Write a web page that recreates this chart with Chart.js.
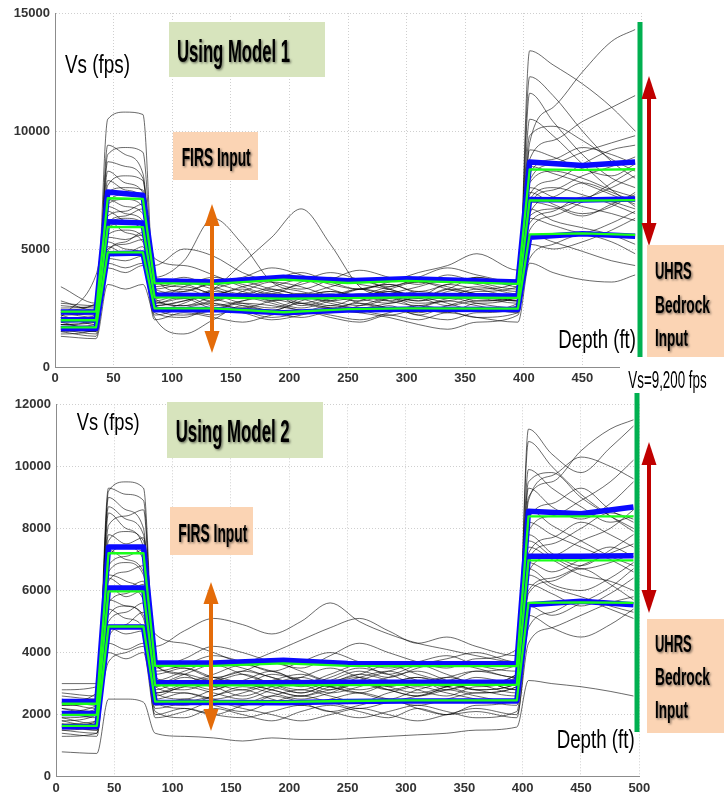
<!DOCTYPE html>
<html>
<head>
<meta charset="utf-8">
<script src="https://cdn.jsdelivr.net/npm/chart.js@4/dist/chart.umd.min.js"></script>
<style>
  html, body { margin: 0; padding: 0; background: #fff; }
  #wrap { position: relative; width: 724px; height: 794px; overflow: hidden; }
  canvas { position: absolute; left: 0; }
  #model1 { top: 0; }
  #model2 { top: 390px; }
  #notes { position: absolute; left: 0; top: 0; }
  #notes text { font-family: "Liberation Sans", Arial, sans-serif; fill: #000; }
  #notes .b { font-weight: bold; }
</style>
</head>
<body>
<div id="wrap">
  <canvas id="model1" width="724" height="390"></canvas>
  <canvas id="model2" width="724" height="404"></canvas>
  <svg id="notes" width="724" height="794" viewBox="0 0 724 794">
    <defs>
      <filter id="shadow" x="-10%" y="-20%" width="130%" height="150%">
        <feDropShadow dx="1.2" dy="1.2" stdDeviation="1" flood-color="#000" flood-opacity="0.55"/>
      </filter>
    </defs>

    <!-- Model 1 panel annotations -->
    <text x="65" y="73.3" font-size="25" textLength="65" lengthAdjust="spacingAndGlyphs">Vs (fps)</text>
    <rect x="169" y="22" width="156" height="55" fill="#d7e4bd"/>
    <text class="b" x="177" y="61.7" font-size="31" textLength="113" lengthAdjust="spacingAndGlyphs" filter="url(#shadow)">Using Model 1</text>
    <rect x="173" y="132" width="85" height="48" fill="#fbd4b4"/>
    <text class="b" x="181.7" y="165.7" font-size="25" textLength="69" lengthAdjust="spacingAndGlyphs" filter="url(#shadow)">FIRS Input</text>
    <line x1="212" y1="222" x2="212" y2="335" stroke="#e46c0a" stroke-width="4"/>
    <polygon points="212,204 204.5,226 219.5,226" fill="#e46c0a"/>
    <polygon points="212,353 204.5,331 219.5,331" fill="#e46c0a"/>
    <line x1="640" y1="22" x2="640" y2="357" stroke="#00b050" stroke-width="5"/>
    <line x1="649" y1="94" x2="649" y2="228" stroke="#c00000" stroke-width="4"/>
    <polygon points="649,76 641.5,99 656.5,99" fill="#c00000"/>
    <polygon points="649,246 641.5,223 656.5,223" fill="#c00000"/>
    <rect x="647" y="245" width="77" height="112" fill="#fbd4b4"/>
    <text class="b" x="655" y="279.3" font-size="24.5" textLength="36.7" lengthAdjust="spacingAndGlyphs" filter="url(#shadow)">UHRS</text>
    <text class="b" x="655" y="312.7" font-size="24.5" textLength="55" lengthAdjust="spacingAndGlyphs" filter="url(#shadow)">Bedrock</text>
    <text class="b" x="655" y="346" font-size="24.5" textLength="33" lengthAdjust="spacingAndGlyphs" filter="url(#shadow)">Input</text>
    <text x="558.3" y="348.3" font-size="25.5" textLength="77.7" lengthAdjust="spacingAndGlyphs">Depth (ft)</text>
    <rect x="620" y="358" width="104" height="37" fill="#ffffff"/>
    <text x="628.3" y="388.3" font-size="23" textLength="78.4" lengthAdjust="spacingAndGlyphs">Vs=9,200 fps</text>

    <!-- Model 2 panel annotations -->
    <text x="76.7" y="430" font-size="24" textLength="63" lengthAdjust="spacingAndGlyphs">Vs (fps)</text>
    <rect x="167" y="402" width="156" height="56" fill="#d7e4bd"/>
    <text class="b" x="175.7" y="441.7" font-size="31" textLength="114" lengthAdjust="spacingAndGlyphs" filter="url(#shadow)">Using Model 2</text>
    <rect x="170" y="507" width="83" height="48" fill="#fbd4b4"/>
    <text class="b" x="178.3" y="541.7" font-size="25" textLength="69" lengthAdjust="spacingAndGlyphs" filter="url(#shadow)">FIRS Input</text>
    <line x1="211" y1="600" x2="211" y2="713" stroke="#e46c0a" stroke-width="4"/>
    <polygon points="211,582 203.5,604 218.5,604" fill="#e46c0a"/>
    <polygon points="211,731 203.5,709 218.5,709" fill="#e46c0a"/>
    <line x1="637" y1="393" x2="637" y2="732" stroke="#00b050" stroke-width="5"/>
    <line x1="649" y1="460" x2="649" y2="595" stroke="#c00000" stroke-width="4"/>
    <polygon points="649,442 641.5,465 656.5,465" fill="#c00000"/>
    <polygon points="649,613 641.5,590 656.5,590" fill="#c00000"/>
    <rect x="647" y="619" width="77" height="114" fill="#fbd4b4"/>
    <text class="b" x="655" y="651.7" font-size="24.5" textLength="36.7" lengthAdjust="spacingAndGlyphs" filter="url(#shadow)">UHRS</text>
    <text class="b" x="655" y="685" font-size="24.5" textLength="55" lengthAdjust="spacingAndGlyphs" filter="url(#shadow)">Bedrock</text>
    <text class="b" x="655" y="718.3" font-size="24.5" textLength="33" lengthAdjust="spacingAndGlyphs" filter="url(#shadow)">Input</text>
    <text x="556.7" y="748.3" font-size="26" textLength="78" lengthAdjust="spacingAndGlyphs">Depth (ft)</text>
  </svg>
</div>

<script>
// Depth (ft) of each node along a randomized Vs profile
const depthNodes = [5, 35, 45, 60, 75, 85, 110, 135, 160, 185, 210, 235, 260, 285, 310, 335, 360, 395, 405, 425, 450, 475, 495];
// Depth (ft) of the nodes used by the statistic curves
const statDepths = [5, 35, 45, 75, 85, 135, 195, 250, 300, 395, 405, 450, 495];

const depthTicks = [0, 50, 100, 150, 200, 250, 300, 350, 400, 450, 500];
const vsTicksModel1 = [0, 5000, 10000, 15000];
const vsTicksModel2 = [0, 2000, 4000, 6000, 8000, 10000, 12000];

// Randomized Vs profiles (fps), Model 1
const model1Profiles = [
  [2400, 2300, 10500, 10800, 10700, 3200, 3000, 2900, 3100, 2800, 3000, 3200, 2900, 2700, 3000, 3100, 2800, 2900, 13400, 12800, 12000, 11000, 10000],
  [1800, 1700, 9400, 9000, 8200, 3600, 3400, 3100, 2900, 3300, 3000, 2800, 3000, 3200, 2900, 3300, 3100, 3000, 9500, 11000, 12500, 13800, 14300],
  [3400, 2700, 7400, 7600, 7500, 3800, 4500, 6300, 5200, 3600, 3200, 3000, 3300, 3500, 3100, 2900, 3200, 3400, 8200, 8800, 9300, 9000, 8600],
  [1600, 1500, 5000, 5200, 5400, 2600, 2800, 3300, 4400, 5500, 6700, 5200, 3400, 3000, 2700, 2800, 3000, 2900, 7000, 6800, 6400, 6900, 7300],
  [2100, 3900, 6000, 6300, 6100, 2900, 3400, 3800, 3500, 3200, 2900, 2600, 3000, 3400, 3600, 3300, 3000, 2800, 6500, 7200, 7800, 7400, 7000],
  [1300, 1200, 3500, 3300, 3500, 2100, 1400, 2000, 2600, 2400, 2700, 2500, 2300, 2600, 2200, 2500, 2400, 2600, 4600, 5200, 5600, 5300, 4800],
  [2000, 2200, 7700, 8100, 7900, 2700, 2900, 2500, 2800, 3100, 2600, 2900, 3300, 3000, 2800, 3200, 3400, 3100, 10500, 9800, 8600, 7500, 6800],
  [1700, 1800, 4600, 4500, 4700, 3100, 3300, 2900, 2600, 2400, 2800, 3100, 2700, 2500, 2300, 2600, 2900, 2700, 5800, 6400, 7000, 7800, 8400],
  [2300, 2100, 6800, 6500, 6200, 4300, 5000, 4700, 4000, 3600, 3300, 3700, 4100, 3800, 3500, 3900, 3600, 3300, 7300, 7900, 8600, 9200, 9400],
  [1900, 1600, 8700, 8500, 8000, 2800, 2600, 3000, 3300, 2900, 3100, 2800, 2600, 2900, 3200, 3000, 2700, 2500, 6300, 6000, 5700, 6100, 6600],
  [2600, 2500, 5600, 5800, 5500, 2400, 2700, 3200, 3000, 2700, 2400, 2300, 2600, 2900, 2500, 2300, 2700, 3000, 11600, 10400, 9000, 8000, 7600],
  [1500, 1700, 5300, 5000, 4800, 3300, 3100, 2800, 3200, 3600, 3400, 3000, 2800, 3100, 3400, 3700, 3500, 3200, 7600, 7200, 6800, 6500, 6200],
  [2200, 2400, 7000, 7300, 7200, 2600, 2400, 2200, 2500, 2300, 2100, 2400, 2700, 2500, 2200, 2000, 2300, 2500, 8800, 9600, 10400, 11000, 11500],
  [1800, 2000, 4200, 4000, 4300, 3500, 3800, 3400, 3100, 3400, 3700, 3300, 3000, 3300, 3600, 3400, 3100, 2900, 5600, 5300, 4900, 4500, 4300],
  [2500, 2600, 6400, 6600, 6900, 3000, 3200, 3500, 3200, 2900, 2700, 3000, 3300, 3100, 2800, 3000, 3300, 3600, 7800, 8300, 8000, 7500, 7200],
  [1400, 1600, 5900, 6100, 5800, 2200, 2500, 2700, 2400, 2100, 2300, 2600, 2400, 2200, 2500, 2800, 2600, 2300, 6700, 6200, 5900, 5600, 5200],
  [2000, 1900, 9000, 9300, 9100, 3400, 3600, 3300, 3000, 3200, 3500, 3800, 3500, 3300, 3000, 3300, 3800, 3500, 9800, 10200, 9600, 8800, 8300],
  [2800, 2400, 6200, 5700, 5300, 2700, 3000, 2600, 2800, 3000, 2700, 2500, 2800, 3200, 3000, 2700, 2400, 2700, 6900, 7500, 8100, 8500, 8900],
  [1700, 1500, 4900, 5300, 5700, 3800, 3200, 3600, 3800, 4200, 3900, 3500, 3300, 3600, 4000, 4300, 4800, 4100, 6100, 6600, 7200, 7000, 6700],
  [2300, 2200, 7100, 6800, 6500, 2500, 2200, 2400, 2700, 2600, 2400, 2200, 2000, 2300, 2600, 2400, 2100, 2300, 8500, 8200, 7800, 7300, 6900],
  [1900, 2100, 5500, 5400, 5600, 2900, 2600, 2800, 3100, 2800, 2500, 2800, 3100, 2800, 2600, 2900, 3100, 2800, 7400, 6900, 6500, 6800, 7400],
  [2100, 2000, 8300, 7800, 7400, 4600, 4300, 3900, 3400, 3100, 3600, 4000, 3700, 3400, 3800, 4200, 3900, 3600, 9200, 8900, 8400, 8100, 8600],
  [1600, 1400, 6600, 6200, 6000, 2300, 2100, 2500, 2300, 2000, 2200, 2500, 2300, 2100, 1800, 1600, 1900, 2200, 5200, 5000, 5300, 5800, 6300],
  [2700, 2600, 5100, 4800, 5100, 3200, 2900, 3300, 3600, 3300, 3100, 3400, 3700, 3300, 3000, 3500, 3300, 3000, 7100, 7600, 7300, 6900, 6500],
  [2200, 1800, 7900, 7500, 7100, 2800, 3100, 2700, 2500, 2800, 3000, 2700, 2500, 2700, 2900, 2600, 2800, 3100, 12300, 11500, 10000, 8700, 8000],
  [1500, 1300, 4400, 4200, 4400, 2000, 2300, 2100, 1900, 2200, 2400, 2100, 1900, 2200, 2000, 2300, 2100, 1900, 4400, 4000, 3700, 3600, 3900],
  [2400, 2700, 6100, 6400, 6700, 3300, 3500, 3100, 3400, 3700, 4000, 3600, 3300, 3500, 3200, 3500, 3800, 3400, 7900, 8600, 9100, 9500, 9800],
  [1800, 1900, 6900, 7100, 6800, 2600, 2800, 3000, 2700, 2500, 2900, 3200, 3000, 2800, 3100, 2900, 3100, 2800, 6400, 6700, 7100, 7600, 8100]
];

// Randomized Vs profiles (fps), Model 2
const model2Profiles = [
  [2200, 2100, 9200, 9500, 9300, 3300, 3500, 3200, 3000, 3300, 3100, 2900, 3200, 3400, 3100, 2900, 3200, 3000, 11200, 10400, 9800, 10600, 11300],
  [800, 750, 2500, 2500, 2400, 1400, 1300, 1250, 1150, 1250, 1200, 1200, 1250, 1300, 1350, 1400, 1500, 1600, 3100, 3000, 2900, 2750, 2600],
  [2600, 2500, 8700, 8300, 7800, 4200, 4700, 5100, 4900, 4600, 5000, 5600, 5000, 4600, 4300, 4100, 3900, 3700, 9500, 9800, 9000, 8400, 8000],
  [1500, 1400, 5200, 5500, 5100, 2400, 2200, 2000, 2300, 2600, 2400, 2100, 2300, 2500, 2200, 2000, 2300, 2500, 6000, 6400, 6800, 7200, 7500],
  [3000, 3000, 6800, 7100, 7300, 2900, 3200, 3000, 2800, 3100, 3300, 3000, 2800, 3000, 3200, 2900, 2700, 2900, 8900, 9700, 10300, 10000, 9600],
  [1800, 2000, 4300, 4100, 4300, 3600, 3300, 2900, 3100, 3400, 3000, 2700, 2900, 3200, 3400, 3100, 2800, 3000, 5500, 5200, 5600, 6100, 6700],
  [2100, 1900, 9000, 8600, 8000, 2700, 2500, 2800, 3000, 2800, 2600, 2900, 3100, 2800, 2600, 2900, 3100, 2800, 7400, 7000, 6500, 6300, 6000],
  [1400, 1300, 4800, 4600, 4700, 2100, 1900, 2200, 2000, 1800, 2100, 2300, 2100, 1900, 2200, 2000, 2100, 1900, 4800, 5300, 5700, 5400, 5100],
  [2400, 2700, 7600, 7900, 7600, 3500, 3800, 4200, 4000, 3700, 3500, 3900, 4300, 4000, 3700, 3500, 3800, 4100, 8300, 8800, 9300, 8600, 8200],
  [1700, 1800, 6100, 5800, 6000, 2600, 2900, 2700, 2500, 2800, 3100, 2900, 2700, 2500, 2800, 3000, 2800, 2600, 6900, 6600, 7000, 7400, 7100],
  [2300, 2400, 5600, 5900, 6200, 3100, 2800, 3100, 3400, 3200, 2900, 3200, 3500, 3300, 3000, 3200, 3400, 3200, 10800, 10000, 9100, 8400, 7900],
  [1600, 1500, 6500, 6300, 5900, 4600, 4300, 4000, 3700, 4000, 4400, 4800, 5100, 4700, 4300, 4500, 4200, 3900, 7800, 7200, 6800, 7300, 7800],
  [2000, 2200, 3700, 4000, 4200, 2300, 2500, 2300, 2100, 2400, 2600, 2400, 2200, 2400, 2600, 2800, 2600, 2400, 6500, 6100, 5800, 5500, 5300],
  [2700, 2600, 8100, 8400, 8600, 3000, 3300, 3600, 3300, 3000, 2700, 3000, 3300, 3100, 2800, 2600, 2900, 3200, 9300, 8700, 8300, 8800, 9500],
  [1300, 1400, 5400, 5100, 4800, 1900, 2100, 2400, 2200, 2000, 1800, 2000, 2200, 2000, 1800, 2000, 2200, 2000, 4300, 4800, 5200, 5600, 5800],
  [2200, 2000, 7100, 7400, 7000, 2700, 3000, 3300, 3600, 3400, 3100, 2800, 3100, 3400, 3600, 3300, 3000, 3300, 7200, 7700, 8200, 7800, 7400],
  [1900, 1700, 6300, 6600, 6800, 3800, 3500, 3200, 3400, 3700, 3400, 3100, 3300, 3600, 3300, 3100, 3400, 3600, 8600, 8100, 7600, 7100, 6800],
  [2500, 2300, 4500, 4900, 5300, 2500, 2700, 2500, 2300, 2600, 2800, 2600, 2400, 2700, 2900, 2700, 2500, 2300, 5900, 6300, 6700, 6200, 5700],
  [1600, 1800, 7300, 7000, 6600, 3200, 3000, 2800, 3100, 2900, 2700, 3000, 3200, 2900, 2700, 2900, 3100, 2800, 7900, 8400, 8900, 9500, 10200],
  [2100, 2300, 5900, 6100, 5700, 2200, 2400, 2600, 2900, 2700, 2500, 2700, 3000, 2800, 2600, 2800, 3000, 3300, 6700, 6200, 6000, 6400, 6900],
  [1800, 1600, 8500, 8000, 7400, 2900, 2700, 2500, 2700, 3000, 3200, 2900, 2700, 3000, 3200, 3000, 2800, 3000, 7600, 7100, 6700, 6900, 7200],
  [2400, 2200, 5000, 5300, 5600, 3400, 3600, 3900, 3700, 3400, 3700, 4000, 3700, 3500, 3700, 3900, 3600, 3400, 9900, 9300, 8700, 8200, 8400],
  [1500, 1700, 4000, 3800, 4000, 2000, 2200, 2000, 1900, 2100, 2300, 2100, 1900, 2100, 2300, 2100, 1900, 2100, 5200, 4800, 4500, 4900, 5400],
  [2800, 2900, 6600, 6900, 6500, 2800, 3100, 2900, 2600, 2900, 3200, 3500, 3200, 2900, 3100, 2800, 3000, 3200, 7000, 7500, 8000, 8500, 8300],
  [2000, 2100, 7800, 7500, 7700, 3600, 3300, 3100, 3300, 3000, 2800, 3100, 3400, 3200, 3500, 3700, 3500, 3200, 8200, 7800, 7400, 7000, 6600],
  [1700, 1500, 5700, 5500, 5200, 2500, 2300, 2600, 2800, 2500, 2300, 2500, 2700, 2500, 2300, 2500, 2700, 2900, 6200, 5900, 5500, 5900, 6400],
  [2300, 2500, 9300, 9100, 8900, 3100, 3400, 3700, 3500, 3200, 3000, 3300, 3600, 3300, 3600, 3800, 4000, 3700, 9000, 9500, 10500, 11200, 11500],
  [1900, 2000, 6400, 6100, 6300, 2700, 2900, 3200, 3000, 2800, 2600, 2800, 3000, 2800, 3000, 3200, 3000, 2700, 6600, 7100, 7600, 8000, 8600]
];

// Statistic curves (fps): blue = median and median +/- one sigma, green = companion estimate
const model1BlueUpper  = [2330, 2330, 7420, 7280, 3650, 3600, 3800, 3650, 3740, 3600, 8690, 8540, 8690];
const model1BlueMedian = [2000, 2000, 6150, 6100, 3050, 3020, 2980, 3000, 3040, 3010, 7100, 7080, 7120];
const model1BlueLower  = [1630, 1630, 4800, 4830, 2430, 2440, 2300, 2420, 2450, 2440, 5500, 5650, 5540];
const model1GreenUpper  = [2350, 2350, 7150, 7120, 3550, 3520, 3700, 3560, 3650, 3520, 8370, 8350, 8380];
const model1GreenMedian = [1980, 1980, 5940, 5930, 2950, 2940, 2900, 2920, 2950, 2930, 7060, 7050, 7070];
const model1GreenLower  = [1680, 1680, 4860, 4860, 2480, 2480, 2320, 2450, 2480, 2470, 5620, 5660, 5600];

const model2BlueUpper  = [2420, 2420, 7400, 7400, 3660, 3660, 3750, 3650, 3640, 3640, 8550, 8470, 8690];
const model2BlueMedian = [2040, 2040, 6080, 6080, 3030, 3030, 3030, 3040, 3045, 3045, 7100, 7100, 7120];
const model2BlueLower  = [1610, 1610, 4820, 4820, 2390, 2390, 2380, 2420, 2440, 2440, 5540, 5650, 5540];
const model2GreenUpper  = [2350, 2350, 7200, 7200, 3570, 3570, 3650, 3570, 3560, 3560, 8390, 8390, 8390];
const model2GreenMedian = [1990, 1990, 5970, 5970, 2940, 2940, 2940, 2950, 2960, 2960, 6970, 6970, 6970];
const model2GreenLower  = [1640, 1640, 4840, 4840, 2420, 2420, 2410, 2440, 2460, 2460, 5600, 5620, 5600];

const tickFont = { family: '"Liberation Sans", Arial, sans-serif', size: 13, weight: 'bold' };

function toPoints(depths, values) {
  return depths.map((d, i) => ({ x: d, y: values[i] }));
}

function profileDatasets(profiles) {
  return profiles.map(p => ({
    data: toPoints(depthNodes, p),
    borderColor: 'rgba(0,0,0,0.66)',
    borderWidth: 0.9,
    cubicInterpolationMode: 'monotone',
    pointRadius: 0,
    order: 2
  }));
}

function statDataset(values, color, width, order) {
  return {
    data: toPoints(statDepths, values),
    borderColor: color,
    borderWidth: width,
    tension: 0,
    pointRadius: 0,
    borderJoinStyle: 'round',
    order: order
  };
}

function drawPanel(canvasId, profiles, blues, greens, vsTicks, box) {
  const datasets = profileDatasets(profiles)
    .concat(blues.map(b => statDataset(b, '#0a0aff', 5.5, 1)))
    .concat(greens.map(g => statDataset(g, '#19ff19', 2.3, 0)));

  return new Chart(document.getElementById(canvasId), {
    type: 'line',
    data: { datasets },
    options: {
      responsive: false,
      animation: false,
      devicePixelRatio: 1,
      events: [],
      layout: { padding: { top: box.top, right: box.right, left: 0, bottom: 0 } },
      plugins: { legend: { display: false }, tooltip: { enabled: false } },
      scales: {
        x: {
          type: 'linear',
          min: 0,
          max: 500,
          afterBuildTicks: s => { s.ticks = depthTicks.map(v => ({ value: v })); },
          afterFit: s => { s.height = box.xHeight; },
          grid: { color: '#cfcfcf', lineWidth: 1, drawTicks: false },
          border: { color: '#8c8c8c', width: 1, dash: [1, 2] },
          ticks: { font: tickFont, color: '#333', padding: 4, maxRotation: 0, autoSkip: false, callback: v => String(v) }
        },
        y: {
          type: 'linear',
          min: 0,
          max: vsTicks[vsTicks.length - 1],
          afterBuildTicks: s => { s.ticks = vsTicks.map(v => ({ value: v })); },
          afterFit: s => { s.width = box.yWidth; },
          grid: { color: '#cfcfcf', lineWidth: 1, drawTicks: false },
          border: { color: '#8c8c8c', width: 1, dash: [1, 2] },
          ticks: { font: tickFont, color: '#333', padding: 5, autoSkip: false, callback: v => String(v) }
        }
      }
    }
  });
}

drawPanel('model1', model1Profiles,
  [model1BlueUpper, model1BlueMedian, model1BlueLower],
  [model1GreenUpper, model1GreenMedian, model1GreenLower],
  vsTicksModel1,
  { top: 13, right: 83, xHeight: 23, yWidth: 55 });

drawPanel('model2', model2Profiles,
  [model2BlueUpper, model2BlueMedian, model2BlueLower],
  [model2GreenUpper, model2GreenMedian, model2GreenLower],
  vsTicksModel2,
  { top: 14.3, right: 84.7, xHeight: 17.3, yWidth: 56 });
</script>
</body>
</html>
